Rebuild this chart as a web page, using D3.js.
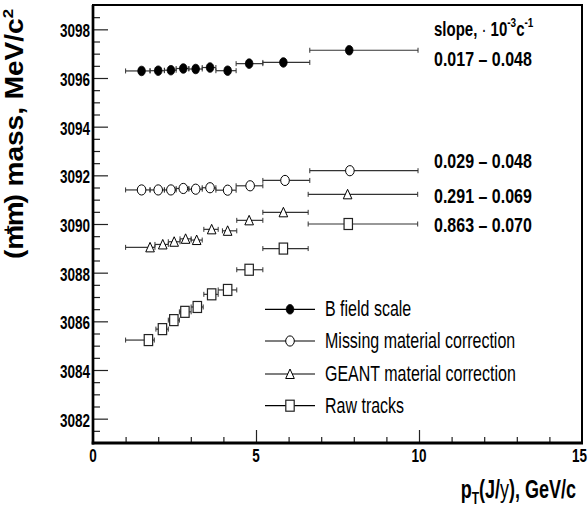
<!DOCTYPE html>
<html>
<head>
<meta charset="utf-8">
<script src="https://cdn.jsdelivr.net/npm/d3@7"></script>
<style>
  html, body { margin: 0; padding: 0; background: #fff; }
  svg { display: block; font-family: "Liberation Sans", Arial, Helvetica, sans-serif; }
</style>
</head>
<body>
<div id="chart"></div>
<script>
// ---------------- DATA ----------------
const xTicksMajor = [0, 5, 10, 15];
const yTicksMajor = [3082, 3084, 3086, 3088, 3090, 3092, 3094, 3096, 3098];

const seriesNames = ["B field scale", "Missing material correction", "GEANT material correction", "Raw tracks"];
const slopeLabels = ["0.017 – 0.048", "0.029 – 0.048", "0.291 – 0.069", "0.863 – 0.070"];

// B field scale (filled circles)
const ptB   = [1.49, 2.00, 2.39, 2.77, 3.15, 3.59, 4.13, 4.79, 5.84, 7.86];
const massB = [3096.29, 3096.30, 3096.32, 3096.39, 3096.37, 3096.43, 3096.30, 3096.59, 3096.64, 3097.14];
const loB   = [1.00, 1.75, 2.19, 2.55, 2.94, 3.35, 3.77, 4.39, 5.21, 6.65];
const hiB   = [1.75, 2.19, 2.55, 2.94, 3.35, 3.77, 4.39, 5.21, 6.65, 9.97];

// Missing material correction (open circles)
const ptM   = [1.49, 2.00, 2.39, 2.77, 3.15, 3.59, 4.13, 4.82, 5.89, 7.88];
const massM = [3091.40, 3091.40, 3091.40, 3091.46, 3091.43, 3091.49, 3091.39, 3091.57, 3091.79, 3092.19];
const loM   = [1.00, 1.75, 2.19, 2.55, 2.94, 3.35, 3.77, 4.39, 5.21, 6.65];
const hiM   = [1.75, 2.19, 2.55, 2.94, 3.35, 3.77, 4.39, 5.21, 6.65, 9.97];

// GEANT material correction (open triangles)
const ptG   = [1.75, 2.14, 2.49, 2.84, 3.18, 3.64, 4.13, 4.79, 5.84, 7.81];
const massG = [3089.04, 3089.16, 3089.27, 3089.39, 3089.34, 3089.78, 3089.72, 3090.15, 3090.48, 3091.22];
const loG   = [1.00, 1.90, 2.31, 2.67, 3.01, 3.40, 3.97, 4.41, 5.21, 6.60];
const hiG   = [1.90, 2.31, 2.67, 3.01, 3.35, 3.84, 4.41, 5.21, 6.60, 9.96];

// Raw tracks (open squares)
const ptR   = [1.70, 2.13, 2.48, 2.82, 3.20, 3.64, 4.13, 4.79, 5.84, 7.83];
const massR = [3085.23, 3085.68, 3086.05, 3086.39, 3086.59, 3087.11, 3087.29, 3088.12, 3088.99, 3090.00];
const loR   = [1.00, 1.93, 2.31, 2.65, 3.01, 3.40, 3.84, 4.41, 5.21, 6.60];
const hiR   = [1.88, 2.31, 2.65, 3.01, 3.38, 3.84, 4.41, 5.21, 6.60, 9.96];

// ---------------- LAYOUT ----------------
const W = 588, H = 510;
const L = 93, R = 582, T = 5, B = 443;
const SY = 1.35; // vertical stretch of horizontal text

const svg = d3.select("#chart").append("svg").attr("width", W).attr("height", H);

const x = d3.scaleLinear().domain([0, 15]).range([L, R]);
const y = d3.scaleLinear().domain([3081, 3099]).range([B, T]);

function stext(g, px, py, str, opts) {
  const t = g.append("text")
    .attr("transform", `translate(${px},${py}) scale(1,${opts.sy || SY})`)
    .attr("font-size", opts.size)
    .attr("font-weight", opts.weight || "bold")
    .attr("text-anchor", opts.anchor || "start")
    .attr("fill", "#000");
  if (str !== null) t.text(str);
  return t;
}

// ---------------- AXES ----------------
const yMinor = d3.range(3081.5, 3099, 0.5).filter(v => !yTicksMajor.includes(v));
const xMinor = d3.range(1, 15, 1).filter(v => !xTicksMajor.includes(v));

const axisG = svg.append("g");
const yAxisMajor = d3.axisRight(y).tickValues(yTicksMajor).tickSize(15).tickFormat("");
const yAxisMinor = d3.axisRight(y).tickValues(yMinor).tickSize(7).tickFormat("");
axisG.append("g").attr("transform", `translate(${L},0)`).call(yAxisMajor)
  .call(g => g.select(".domain").remove());
axisG.append("g").attr("transform", `translate(${L},0)`).call(yAxisMinor)
  .call(g => g.select(".domain").remove());
const xAxisMajor = d3.axisTop(x).tickValues(xTicksMajor.filter(v => v > 0 && v < 15)).tickSize(13).tickFormat("");
const xAxisMinor = d3.axisTop(x).tickValues(xMinor).tickSize(6).tickFormat("");
axisG.append("g").attr("transform", `translate(0,${B})`).call(xAxisMajor)
  .call(g => g.select(".domain").remove());
axisG.append("g").attr("transform", `translate(0,${B})`).call(xAxisMinor)
  .call(g => g.select(".domain").remove());
axisG.selectAll(".tick line").attr("stroke", "#222").attr("stroke-width", 1.2);

// Frame
svg.append("rect").attr("x", L).attr("y", T).attr("width", R - L).attr("height", B - T)
  .attr("fill", "none").attr("stroke", "#000").attr("stroke-width", 2);
svg.append("line").attr("x1", L).attr("x2", L).attr("y1", T).attr("y2", B + 1.5)
  .attr("stroke", "#000").attr("stroke-width", 2.7);
svg.append("line").attr("x1", L - 1.3).attr("x2", R + 1).attr("y1", B).attr("y2", B)
  .attr("stroke", "#000").attr("stroke-width", 3);

// Tick labels
const labG = svg.append("g");
yTicksMajor.forEach(v => stext(labG, L - 3, y(v) + 8, String(v), { size: 13.5, anchor: "end" }));
xTicksMajor.forEach(v => {
  const last = v === 15;
  stext(labG, last ? W - 1 : x(v), B + 19, String(v), { size: 13.5, anchor: last ? "end" : "middle" });
});

// Axis titles
const xt = stext(labG, R - 6, 498, null, { size: 18, anchor: "end", sy: 1.4 });
xt.append("tspan").text("p");
xt.append("tspan").attr("font-size", 12).attr("dy", 4).text("T");
xt.append("tspan").attr("dy", -4).text("(J/");
xt.append("tspan").attr("font-weight", "normal").text("y");
xt.append("tspan").text("), GeV/c");

const yt = labG.append("text")
  .attr("transform", `translate(23,134) rotate(-90) scale(1.12,1)`)
  .attr("font-size", 25).attr("font-weight", "bold").attr("text-anchor", "middle");
yt.append("tspan").text("(m");
yt.append("tspan").attr("font-size", 15).attr("dy", -10).attr("dx", -9).text("+");
yt.append("tspan").attr("dy", 10).attr("dx", -1).text("m");
yt.append("tspan").attr("font-size", 15).attr("dy", -10).attr("dx", -9).text("-");
yt.append("tspan").attr("dy", 10).attr("dx", 2).text(") mass, MeV/c");
yt.append("tspan").attr("font-size", 15).attr("dy", -10).text("2");

// ---------------- SERIES ----------------
const series = [
  { name: seriesNames[0], pt: ptB, m: massB, lo: loB, hi: hiB, shape: "fcircle" },
  { name: seriesNames[1], pt: ptM, m: massM, lo: loM, hi: hiM, shape: "ocircle" },
  { name: seriesNames[2], pt: ptG, m: massG, lo: loG, hi: hiG, shape: "triangle" },
  { name: seriesNames[3], pt: ptR, m: massR, lo: loR, hi: hiR, shape: "square" }
];

function drawMarker(g, cx, cy, shape) {
  if (shape === "fcircle") {
    g.append("ellipse").attr("cx", cx).attr("cy", cy).attr("rx", 3.8).attr("ry", 4.8)
      .attr("fill", "#000").attr("stroke", "#000").attr("stroke-width", 0.8);
  } else if (shape === "ocircle") {
    g.append("ellipse").attr("cx", cx).attr("cy", cy).attr("rx", 4.3).attr("ry", 5.1)
      .attr("fill", "#fff").attr("stroke", "#000").attr("stroke-width", 1);
  } else if (shape === "triangle") {
    const w = 4.3, h = 5;
    g.append("path").attr("d", `M${cx},${cy - h}L${cx + w},${cy + h - 0.5}L${cx - w},${cy + h - 0.5}Z`)
      .attr("fill", "#fff").attr("stroke", "#000").attr("stroke-width", 1);
  } else {
    g.append("rect").attr("x", cx - 4.2).attr("y", cy - 5.5).attr("width", 8.4).attr("height", 11)
      .attr("fill", "#fff").attr("stroke", "#222").attr("stroke-width", 1.2);
  }
}

const plotG = svg.append("g");
series.forEach(s => {
  const g = plotG.append("g");
  s.pt.forEach((p, i) => {
    const cy = y(s.m[i]);
    g.append("line").attr("x1", x(s.lo[i])).attr("x2", x(s.hi[i])).attr("y1", cy).attr("y2", cy)
      .attr("stroke", "#333").attr("stroke-width", 1.2);
    [s.lo[i], s.hi[i]].forEach(e => {
      g.append("line").attr("x1", x(e)).attr("x2", x(e)).attr("y1", cy - 2.5).attr("y2", cy + 2.5)
        .attr("stroke", "#333").attr("stroke-width", 1);
    });
  });
  s.pt.forEach((p, i) => drawMarker(g, x(p), y(s.m[i]), s.shape));
});

// ---------------- SLOPE LABELS ----------------
const slopeG = svg.append("g");
const sh = stext(slopeG, 434, 36, null, { size: 15, sy: 1.35 });
sh.append("tspan").text("slope, ");
sh.append("tspan").attr("font-weight", "normal").text("· ");
sh.append("tspan").text("10");
sh.append("tspan").attr("font-size", 10).attr("dy", -7).text("-3");
sh.append("tspan").attr("dy", 7).text("c");
sh.append("tspan").attr("font-size", 10).attr("dy", -7).text("-1");
const slopeY = [65.7, 168.3, 203.3, 232.3];
slopeLabels.forEach((t, i) => stext(slopeG, 434, slopeY[i], t, { size: 16, sy: 1.3 }));

// ---------------- LEGEND ----------------
const legG = svg.append("g");
const legY = [309.3, 341, 374, 405.7];
series.forEach((s, i) => {
  legG.append("line").attr("x1", 265).attr("x2", 315).attr("y1", legY[i]).attr("y2", legY[i])
    .attr("stroke", "#000").attr("stroke-width", 1.2);
  drawMarker(legG, 290, legY[i], s.shape);
  stext(legG, 325, legY[i] + 6.8, s.name, { size: 16, weight: "normal", sy: 1.35 });
});
</script>
</body>
</html>
